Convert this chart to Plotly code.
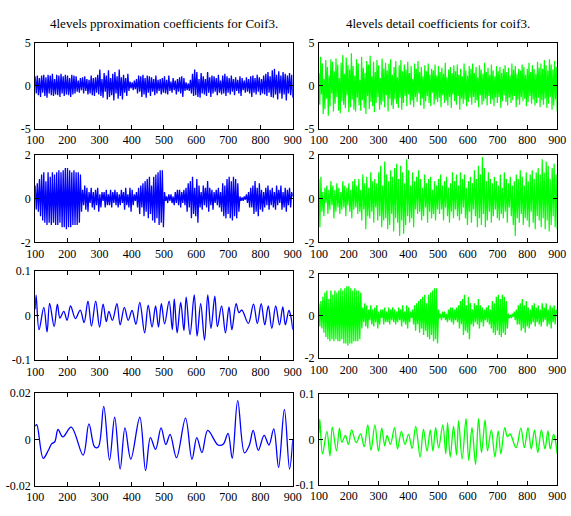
import numpy as np
import plotly.graph_objects as go

# ---------------- data ----------------
title_left = "4levels pproximation coefficients for Coif3."
title_right = "4levels detail coefficients for coif3."

x_ticks = [100, 200, 300, 400, 500, 600, 700, 800, 900]
x_ticklabels = ["100", "200", "300", "400", "500", "600", "700", "800", "900"]

y_ticks_r1 = [-5, 0, 5]
y_labels_r1 = ["-5", "0", "5"]
y_ticks_r2 = [-2, 0, 2]
y_labels_r2 = ["-2", "0", "2"]
y_ticks_r3l = [-0.1, 0, 0.1]
y_labels_r3l = ["-0.1", "0", "0.1"]
y_ticks_r4l = [-0.02, 0, 0.02]
y_labels_r4l = ["-0.02", "0", "0.02"]

# row 1 left: approximation (dense, blue)
approx_a = [
    1.1,-0.9,1.2,-1.1,0.9,-1.3,1.2,-0.8,1.3,-1.2,1.0,-1.4,1.3,-0.9,1.2,-1.1,1.4,-1.2,0.8,-1.0,
    1.3,-1.1,1.2,-1.3,1.4,-0.9,1.1,-1.2,1.3,-1.0,1.2,-1.1,0.9,-1.3,1.3,-1.0,1.2,-0.9,1.1,-0.7,
    0.6,-0.8,0.9,-0.5,1.0,-0.9,1.1,-0.6,0.8,-1.0,0.7,-0.9,1.2,-1.1,0.9,-1.2,1.0,-0.8,1.3,-1.0,
    1.9,-1.2,0.8,-1.4,1.5,-0.7,1.2,-1.6,1.8,-1.3,0.9,-1.1,1.4,-1.7,1.6,-0.9,1.1,-1.5,1.9,-1.2,
    1.0,-1.6,1.3,-0.8,0.9,-1.2,1.4,-0.6,0.5,-0.3,0.4,-0.5,0.6,-0.4,0.8,-0.9,1.2,-0.7,1.1,-1.3,
    1.3,-1.0,0.9,-1.4,1.2,-0.8,1.1,-1.2,1.0,-0.7,0.8,-1.1,1.2,-0.9,0.7,-0.6,0.8,-1.0,0.9,-0.8,
    1.1,-0.9,0.7,-1.0,1.2,-0.6,0.5,-0.8,0.9,-0.5,0.6,-1.0,0.8,-0.7,1.0,-0.9,1.1,-1.3,0.9,-0.6,
    0.4,-0.5,0.3,-0.6,0.7,-0.9,1.4,-1.2,1.9,-1.1,1.6,-1.3,0.8,-1.4,1.5,-0.9,1.1,-1.0,0.8,-1.2,
    1.6,-0.8,1.0,-1.3,1.2,-0.9,1.1,-0.7,0.9,-1.1,1.3,-0.8,0.6,-1.0,1.2,-0.9,1.4,-1.2,1.1,-0.8,
    0.9,-1.0,1.2,-0.7,0.8,-1.1,1.0,-0.6,0.7,-0.9,1.1,-1.2,0.9,-0.5,0.6,-0.8,1.0,-0.7,0.8,-0.9,
    1.1,-1.3,1.2,-0.8,0.9,-1.0,1.3,-0.7,1.0,-1.1,0.8,-0.9,1.2,-1.0,1.4,-1.2,1.6,-0.8,1.1,-1.3,
    1.8,-1.4,2.0,-1.0,1.3,-1.6,1.7,-0.9,1.2,-1.5,1.6,-1.0,1.4,-1.7,1.2,-0.9,1.5,-1.1,1.3,-1.4,
]

# row 1 right: detail (dense, green)
detail_b = [
    1.5,-2.2,3.4,-1.0,2.6,-3.3,0.8,-2.7,3.0,-1.5,2.2,-3.5,1.2,-2.4,3.1,-0.9,2.8,-3.0,1.7,-2.1,
    3.2,-1.3,2.5,-2.9,0.9,-3.2,2.7,-1.8,3.6,-2.2,1.4,-2.6,3.3,-1.1,2.4,-3.1,1.9,-2.5,3.8,-1.6,
    2.3,-2.8,1.2,-3.0,3.1,-1.4,2.6,-2.3,0.7,-2.9,3.4,-1.7,2.1,-2.6,1.5,-3.3,2.9,-1.2,2.5,-2.7,
    3.5,-1.9,1.1,-2.4,2.8,-3.1,1.6,-2.0,3.0,-1.3,2.4,-2.8,0.9,-2.2,3.2,-1.8,2.0,-2.5,2.7,-1.1,
    1.8,-3.0,2.6,-1.5,3.1,-2.3,1.3,-2.7,2.2,-1.6,2.9,-2.1,1.0,-2.6,2.4,-1.4,3.0,-2.8,1.7,-2.0,
    2.5,-1.2,1.9,-2.4,2.8,-1.0,1.5,-2.2,2.3,-1.7,0.8,-2.5,2.6,-1.3,2.0,-1.9,2.9,-0.9,1.6,-2.3,
    2.2,-1.5,1.1,-2.7,2.4,-1.8,1.7,-1.2,2.6,-2.0,1.3,-2.4,2.0,-0.8,1.8,-2.2,2.5,-1.6,1.2,-1.9,
    2.3,-1.4,1.6,-2.5,2.1,-1.1,1.4,-2.0,2.7,-1.7,1.0,-2.3,1.9,-1.3,2.2,-2.6,1.5,-1.0,2.4,-1.8,
    1.7,-2.2,2.5,-1.2,1.3,-2.8,2.0,-1.5,1.1,-2.1,2.6,-1.6,1.8,-2.4,1.2,-1.9,2.3,-1.4,2.0,-2.2,
    2.6,-1.3,1.5,-2.0,2.2,-1.7,1.0,-2.5,2.4,-1.1,1.9,-2.2,1.4,-1.8,2.7,-1.5,1.6,-2.3,2.1,-1.2,
    1.3,-2.1,2.5,-1.6,1.8,-2.4,1.1,-1.4,2.3,-2.0,1.7,-1.3,2.2,-2.6,1.5,-1.8,2.0,-1.1,2.4,-1.9,
    1.6,-2.3,2.1,-1.4,1.2,-2.0,2.6,-1.7,1.9,-1.2,2.3,-2.5,1.4,-1.6,2.0,-2.2,1.8,-1.3,2.5,-1.8,
    2.2,-1.5,1.3,-2.4,2.0,-1.9,2.7,-1.2,1.6,-2.1,2.4,-1.6,1.9,-2.3,1.4,-2.0,2.8,-1.4,2.1,-2.5,
    2.6,-1.7,2.0,-2.2,3.0,-1.5,2.4,-2.6,1.8,-2.1,3.1,-1.3,2.5,-2.8,1.9,-2.3,2.9,-1.6,2.2,-3.0,
]

# row 2 left / row 3 right: bursty coefficients
burst_c = [
    0.6,-0.5,0.7,-0.6,0.9,-0.8,1.1,-1.0,1.2,-1.1,0.8,-1.2,1.2,-1.1,1.0,-1.2,1.2,-1.1,1.1,-1.2,
    1.2,-1.2,1.3,-1.1,1.2,-1.3,1.3,-1.3,1.4,-1.4,1.4,-1.3,1.3,-1.3,1.2,-1.2,1.3,-1.2,1.2,-1.2,
    1.2,-1.1,1.1,-0.6,0.4,-0.3,0.6,-0.5,0.5,-0.6,0.3,-0.2,0.5,-0.4,0.3,-0.5,0.4,-0.3,0.5,-0.6,
    0.2,-0.4,0.3,-0.1,0.3,-0.4,0.4,-0.3,0.2,-0.3,0.4,-0.4,0.3,-0.2,0.4,-0.3,0.3,-0.4,0.2,-0.3,
    0.4,-0.2,0.3,-0.5,0.5,-0.3,0.2,-0.4,0.5,-0.6,0.4,-0.3,0.2,-0.1,0.3,-0.4,0.5,-0.7,0.6,-0.4,
    0.7,-0.8,0.8,-0.6,0.9,-0.9,1.0,-0.7,0.6,-1.0,1.0,-1.1,1.1,-0.9,1.2,-1.2,1.3,-1.1,1.3,-1.3,
    0.3,-0.1,0.1,-0.2,0.2,-0.1,0.2,-0.2,0.1,-0.3,0.3,-0.2,0.4,-0.3,0.4,-0.4,0.3,-0.2,0.4,-0.3,
    0.5,-0.6,0.7,-0.4,0.8,-0.9,1.0,-0.7,0.5,-0.8,0.9,-1.1,0.6,-0.4,0.3,-0.5,0.6,-0.3,0.5,-0.4,
    0.8,-0.6,0.5,-0.3,0.4,-0.5,0.3,-0.2,0.4,-0.3,0.5,-0.4,0.3,-0.6,0.7,-0.8,0.6,-0.9,0.9,-0.7,
    1.0,-0.9,0.8,-1.0,1.0,-0.8,0.9,-0.9,0.7,-0.6,0.1,-0.1,0.05,-0.1,0.1,-0.05,0.2,-0.2,0.3,-0.4,
    0.5,-0.4,0.6,-0.7,0.8,-0.6,0.5,-0.8,0.7,-0.5,0.4,-0.6,0.3,-0.4,0.5,-0.3,0.6,-0.5,0.4,-0.3,
    0.5,-0.4,0.3,-0.5,0.6,-0.3,0.4,-0.2,0.6,-0.5,0.3,-0.4,0.5,-0.6,0.4,-0.3,0.5,-0.4,0.3,0.1,
]

# row 2 right: noisy detail
noise_d = [
    0.9,-1.3,1.0,-0.6,0.3,-0.8,0.5,-0.2,0.6,-0.7,0.4,-0.5,0.8,-0.3,0.6,-0.9,0.4,-0.6,0.7,-0.4,
    0.5,-0.7,0.3,-0.5,0.8,-0.4,0.6,-0.8,0.5,-0.3,0.7,-0.6,0.4,-0.9,0.8,-0.5,0.9,-0.4,0.6,-0.7,
    0.9,-0.6,0.4,-1.0,1.1,-0.5,0.7,-1.4,1.0,-0.8,0.5,-0.9,1.2,-0.6,0.8,-1.1,0.9,-0.4,0.7,-1.0,
    1.2,-0.8,1.5,-1.3,0.6,-1.0,1.7,-0.9,1.1,-1.4,0.8,-1.2,1.3,-0.7,1.0,-1.5,1.4,-0.9,1.6,-1.1,
    0.9,-1.7,1.5,-1.0,1.2,-1.6,0.7,-1.2,1.8,-0.8,1.3,-1.1,0.6,-0.9,1.2,-1.3,0.8,-0.5,1.0,-0.7,
    1.3,-0.6,0.9,-1.0,0.5,-0.8,1.1,-0.4,0.7,-1.1,0.9,-0.6,1.0,-0.9,0.4,-0.7,0.8,-1.0,0.6,-0.5,
    0.9,-0.7,1.1,-0.5,0.6,-1.0,0.8,-0.4,1.0,-0.8,0.5,-1.1,0.7,-0.6,1.2,-0.9,0.8,-0.5,1.1,-0.8,
    0.6,-1.0,1.2,-0.7,0.9,-0.4,1.1,-0.9,0.5,-1.2,0.8,-0.6,1.0,-1.1,0.7,-0.5,1.3,-0.8,0.9,-1.3,
    1.5,-0.9,1.1,-1.2,1.9,-0.7,1.4,-1.3,0.8,-1.0,1.2,-0.6,0.9,-1.1,0.7,-0.8,1.0,-0.5,0.8,-0.9,
    0.6,-1.0,1.1,-0.7,0.5,-0.9,1.2,-0.6,0.9,-1.1,0.7,-0.4,1.0,-0.8,0.6,-1.2,0.8,-1.7,1.1,-0.9,
    0.9,-1.1,1.3,-0.7,1.0,-1.2,0.6,-0.9,1.2,-1.0,0.8,-1.3,1.1,-0.6,1.3,-1.1,0.9,-1.4,1.2,-0.8,
    1.4,-1.0,1.1,-1.3,1.8,-0.9,1.2,-1.4,1.7,-1.0,1.5,-1.5,0.9,-1.2,1.4,-0.8,1.6,-1.3,1.1,-1.4,
]

# row 3 left / row 4 right: smooth oscillation (turning points)
smooth_e_x = [100,103,112,127,137,145,159,169,177,189,199,210,225,240,252,264,275,288,300,311,
              321,329,340,354,364,377,389,401,413,425,440,451,463,474,483,492,502,516,526,532,
              541,552,562,569,581,594,603,614,626,636,646,658,666,679,691,702,711,724,733,742,
              762,778,790,802,813,824,835,847,859,869,877,888,894,900]
smooth_e_y = [0.014,0.045,-0.032,0.018,-0.037,0.027,-0.025,0.025,-0.006,0.009,-0.011,0.021,-0.007,0.012,-0.016,
              0.032,-0.024,0.032,-0.026,0.025,-0.014,0.009,-0.011,0.026,-0.021,0.018,-0.011,0.011,-0.020,0.029,
              -0.039,0.023,-0.026,0.021,-0.026,0.026,-0.019,0.032,-0.032,0.037,-0.039,0.029,-0.034,0.041,-0.043,
              0.046,-0.046,0.026,-0.055,0.046,-0.029,0.043,-0.025,0.021,-0.039,0.019,-0.032,0.026,0.006,0.012,
              -0.018,0.025,-0.018,0.026,-0.021,0.021,-0.029,0.021,-0.021,0.019,-0.021,0.011,-0.002,-0.032]

# row 4 left: smoothest approximation (turning points)
smooth_f_x = [100,105,125,141,151,161,171,186,212,249,267,285,296,313,331,347,364,379,397,425,
              443,458,474,491,506,519,539,567,587,602,618,636,668,684,699,712,729,750,765,777,
              793,811,826,841,856,874,890,900]
smooth_f_y = [0.0057,0.0064,-0.0082,-0.0047,-0.0019,-0.0010,0.0043,0.0011,0.0053,-0.0068,0.0067,-0.0033,
              -0.0033,0.0143,-0.0089,0.0096,-0.0128,0.0050,-0.0085,0.0096,-0.0135,0.0008,-0.0043,0.0050,
              -0.0022,0.0022,-0.0079,0.0092,-0.0086,0.0008,-0.0057,0.0039,-0.0024,-0.0021,0.0026,-0.0082,
              0.0168,-0.0058,-0.0025,0.0039,-0.0047,0.0018,-0.0024,0.0046,-0.0121,0.0130,-0.0128,0.0000]

BLUE = "#0000ff"
GREEN = "#00ff00"

# ---------------- layout geometry ----------------
W, H = 571, 516
col_dom = [[27 / W, 293 / W], [320 / W, 566 / W]]
row_px = [[(37, 125), (37, 125)],
          [(152, 242), (152, 242)],
          [(271, 363), (274, 361)],
          [(397, 492), (398, 491)]]

FONT = "Liberation Serif, Times New Roman, serif"

fig = go.Figure()

panels = [
    # (row, col, x, y, color, width, shape, yrange, yticks, ylabels)
    (0, 0, np.linspace(100, 900, len(approx_a)), approx_a, BLUE, 1.3, "linear", [-5, 5], y_ticks_r1, y_labels_r1),
    (0, 1, np.linspace(100, 900, len(detail_b)), detail_b, GREEN, 1.2, "linear", [-5, 5], y_ticks_r1, y_labels_r1),
    (1, 0, np.linspace(100, 900, len(burst_c)), burst_c, BLUE, 1.3, "linear", [-2, 2], y_ticks_r2, y_labels_r2),
    (1, 1, np.linspace(100, 900, len(noise_d)), noise_d, GREEN, 1.2, "linear", [-2, 2], y_ticks_r2, y_labels_r2),
    (2, 0, smooth_e_x, smooth_e_y, BLUE, 1.3, "spline", [-0.1, 0.1], y_ticks_r3l, y_labels_r3l),
    (2, 1, np.linspace(100, 900, len(burst_c)), burst_c, GREEN, 1.3, "linear", [-2, 2], y_ticks_r2, y_labels_r2),
    (3, 0, smooth_f_x, smooth_f_y, BLUE, 1.3, "spline", [-0.02, 0.02], y_ticks_r4l, y_labels_r4l),
    (3, 1, smooth_e_x, smooth_e_y, GREEN, 1.3, "spline", [-0.1, 0.1], y_ticks_r3l, y_labels_r3l),
]

axis_common = dict(showline=True, linecolor="black", linewidth=1, mirror="allticks",
                   ticks="inside", ticklen=4, tickcolor="black", tickwidth=1,
                   showgrid=False, zeroline=False,
                   tickfont=dict(family=FONT, size=12, color="black"))

for k, (r, c, xs, ys, color, lw, shape, yr, yt, yl) in enumerate(panels, start=1):
    sfx = "" if k == 1 else str(k)
    fig.add_trace(go.Scatter(x=list(xs), y=ys, mode="lines",
                             line=dict(color=color, width=lw, shape=shape),
                             xaxis="x" + sfx, yaxis="y" + sfx, hoverinfo="skip"))
    top, bot = row_px[r][c]
    fig.layout["xaxis" + sfx] = dict(domain=col_dom[c], range=[100, 900], anchor="y" + sfx,
                                     tickvals=x_ticks, ticktext=x_ticklabels, **axis_common)
    fig.layout["yaxis" + sfx] = dict(domain=[1 - bot / H, 1 - top / H], range=yr, anchor="x" + sfx,
                                     tickvals=yt, ticktext=yl, ticklabelstandoff=1, **axis_common)

fig.add_annotation(text=title_left, x=(col_dom[0][0] + col_dom[0][1]) / 2, y=1 - 17 / H,
                   xref="paper", yref="paper", showarrow=False, xanchor="center", yanchor="middle",
                   font=dict(family=FONT, size=13, color="black"))
fig.add_annotation(text=title_right, x=(col_dom[1][0] + col_dom[1][1]) / 2, y=1 - 17 / H,
                   xref="paper", yref="paper", showarrow=False, xanchor="center", yanchor="middle",
                   font=dict(family=FONT, size=13, color="black"))

fig.update_layout(width=W, height=H, margin=dict(l=0, r=0, t=0, b=0),
                  paper_bgcolor="white", plot_bgcolor="white", showlegend=False,
                  font=dict(family=FONT, color="black"))

fig.write_html("out.html")
